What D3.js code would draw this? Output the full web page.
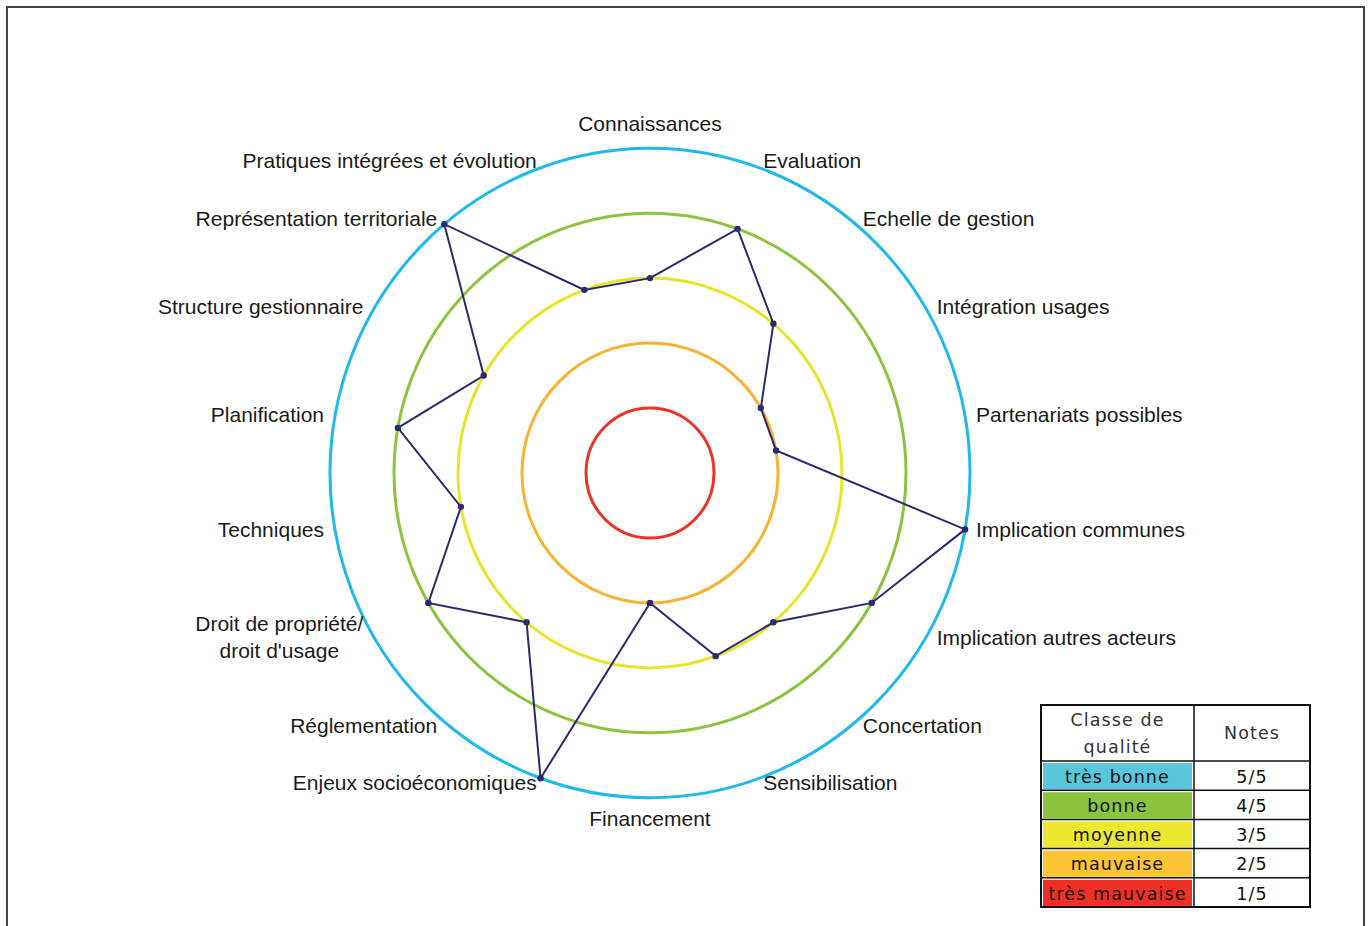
<!DOCTYPE html>
<html><head><meta charset="utf-8">
<script src="https://cdn.jsdelivr.net/npm/d3@7"></script>
<style>
html,body{margin:0;padding:0;background:#fff;}
svg{display:block;}
</style>
</head><body>
<svg id="chart" width="1370" height="926"></svg>
<script>
// ---- data ----
const categories = [
  "Connaissances", "Evaluation", "Echelle de gestion", "Intégration usages",
  "Partenariats possibles", "Implication communes", "Implication autres acteurs",
  "Concertation", "Sensibilisation", "Financement", "Enjeux socioéconomiques",
  "Réglementation", "Droit de propriété/\ndroit d'usage", "Techniques",
  "Planification", "Structure gestionnaire", "Représentation territoriale",
  "Pratiques intégrées et évolution"
];
const scores = [3, 4, 3, 2, 2, 5, 4, 3, 3, 2, 5, 3, 4, 3, 4, 3, 5, 3];
const levels = [1, 2, 3, 4, 5];
const levelColors = ["#ee3326", "#f8b334", "#e8e42a", "#8cc43f", "#20b9ec"];
const legendClasses = ["très bonne", "bonne", "moyenne", "mauvaise", "très mauvaise"];
const legendNotes = ["5/5", "4/5", "3/5", "2/5", "1/5"];
const legendFills = ["#5ac6dc", "#8cc43f", "#ece82f", "#fdc433", "#ee3124"];
const legendHeader = [["Classe de", "qualité"], ["Notes"]];

// ---- layout ----
const svg = d3.select("#chart");
const cx = 650, cy = 473, ky = 1.015;
const r = d3.scaleLinear().domain([0, 5]).range([0, 320]);
const angle = d3.scaleLinear().domain([0, categories.length]).range([0, 2 * Math.PI]);

// frame
svg.append("rect").attr("x", 7).attr("y", 7).attr("width", 1357).attr("height", 930)
  .attr("fill", "none").attr("stroke", "#444").attr("stroke-width", 2);

const g = svg.append("g");

// level rings
g.selectAll("ellipse.ring").data(levels).enter().append("ellipse")
  .attr("class", "ring")
  .attr("cx", cx).attr("cy", cy)
  .attr("rx", d => r(d)).attr("ry", d => r(d) * ky)
  .attr("fill", "none")
  .attr("stroke", (d, i) => levelColors[i])
  .attr("stroke-width", 3);

// data polygon
const pts = scores.map((v, i) => {
  const a = angle(i);
  return [cx + r(v) * Math.sin(a), cy - r(v) * ky * Math.cos(a)];
});
g.append("path")
  .attr("d", d3.line().curve(d3.curveLinearClosed)(pts))
  .attr("fill", "none").attr("stroke", "#2b2a6e").attr("stroke-width", 2);
g.selectAll("circle.pt").data(pts).enter().append("circle")
  .attr("class", "pt")
  .attr("cx", d => d[0]).attr("cy", d => d[1]).attr("r", 3.2)
  .attr("fill", "#2b2a6e");

// category labels
const labelR = 331, fs = 21;
const lblFont = "'Liberation Sans', Arial, Helvetica, sans-serif";
categories.forEach((c, i) => {
  const a = angle(i);
  const s = Math.sin(a), co = Math.cos(a);
  let x = cx + labelR * s, y = cy - 1 - labelR * co;
  let anchor = "middle";
  if (s > 0.01) anchor = "start";
  else if (s < -0.01) anchor = "end";
  else y += (co > 0 ? -17 : 16);
  const lines = c.split("\n");
  const t = g.append("text")
    .attr("font-family", lblFont)
    .attr("font-size", fs).attr("fill", "#1a1a1a")
    .attr("text-anchor", lines.length > 1 ? "middle" : anchor);
  if (lines.length > 1) {
    const tmp = svg.append("text").attr("font-family", lblFont)
      .attr("font-size", fs).text(lines[0]);
    const w = tmp.node().getComputedTextLength();
    tmp.remove();
    const bx = anchor === "end" ? x - w / 2 : (anchor === "start" ? x + w / 2 : x);
    const lh = 27;
    lines.forEach((l, j) => {
      t.append("tspan").attr("x", bx)
        .attr("y", y + (j - (lines.length - 1) / 2) * lh)
        .attr("dy", "0.35em").text(l);
    });
  } else {
    t.attr("x", x).attr("y", y).attr("dy", "0.35em").text(c);
  }
});

// legend table
const lx0 = 1041, lx1 = 1194, lx2 = 1310, ly0 = 705, lyH = 761, rowH = 29.2;
const lg = svg.append("g");
const lfont = "'DejaVu Sans', Verdana, sans-serif";
const lfs = 17.5, lls = 1.1;
legendClasses.forEach((c, i) => {
  const y = lyH + i * rowH;
  lg.append("rect").attr("x", lx0 + 2).attr("y", y + 2)
    .attr("width", lx1 - lx0 - 4).attr("height", rowH - 3)
    .attr("fill", legendFills[i]);
  lg.append("text").attr("x", (lx0 + lx1) / 2).attr("y", y + rowH / 2 + 1)
    .attr("dy", "0.35em").attr("text-anchor", "middle")
    .attr("font-family", lfont).attr("font-size", lfs).attr("fill", "#111")
    .attr("letter-spacing", lls).text(c);
  lg.append("text").attr("x", (lx1 + lx2) / 2).attr("y", y + rowH / 2 + 1)
    .attr("dy", "0.35em").attr("text-anchor", "middle")
    .attr("font-family", lfont).attr("font-size", lfs).attr("fill", "#111")
    .attr("letter-spacing", lls).text(legendNotes[i]);
  if (i > 0) lg.append("line").attr("x1", lx0).attr("x2", lx2).attr("y1", y).attr("y2", y)
    .attr("stroke", "#111").attr("stroke-width", 1.5);
});
const lyEnd = lyH + legendClasses.length * rowH;
legendHeader[0].forEach((l, j) => {
  lg.append("text").attr("x", (lx0 + lx1) / 2).attr("y", ly0 + 15 + j * 27)
    .attr("dy", "0.35em").attr("text-anchor", "middle")
    .attr("font-family", lfont).attr("font-size", lfs).attr("fill", "#333")
    .attr("letter-spacing", lls).text(l);
});
lg.append("text").attr("x", (lx1 + lx2) / 2).attr("y", (ly0 + lyH) / 2)
  .attr("dy", "0.35em").attr("text-anchor", "middle")
  .attr("font-family", lfont).attr("font-size", lfs).attr("fill", "#333")
  .attr("letter-spacing", lls).text(legendHeader[1][0]);
lg.append("line").attr("x1", lx0).attr("x2", lx2).attr("y1", lyH).attr("y2", lyH)
  .attr("stroke", "#111").attr("stroke-width", 1.5);
lg.append("line").attr("x1", lx1).attr("x2", lx1).attr("y1", ly0).attr("y2", lyEnd)
  .attr("stroke", "#111").attr("stroke-width", 1.5);
lg.append("rect").attr("x", lx0).attr("y", ly0).attr("width", lx2 - lx0).attr("height", lyEnd - ly0)
  .attr("fill", "none").attr("stroke", "#111").attr("stroke-width", 2);
</script>
</body></html>
